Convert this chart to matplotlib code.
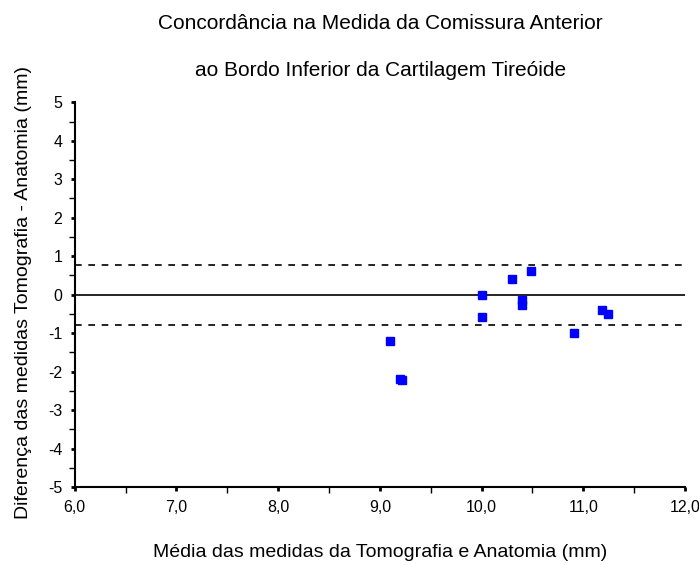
import matplotlib.pyplot as plt
from matplotlib.ticker import MultipleLocator, FuncFormatter

plt.rcParams['font.family'] = ['Liberation Sans', 'DejaVu Sans']

# Bland-Altman data: mean of both measures vs. difference (tomography - anatomy)
media = [9.10, 9.20, 9.22, 10.00, 10.00, 10.30, 10.40, 10.40, 10.49, 10.91, 11.18, 11.24]
diferenca = [-1.21, -2.20, -2.22, 0.00, -0.59, 0.40, -0.15, -0.27, 0.61, -1.00, -0.39, -0.49]
limite_sup = 0.78
limite_inf = -0.78

fig = plt.figure(figsize=(6.99, 5.65), dpi=100)
ax = fig.add_axes([0.107, 0.138, 0.873, 0.681])

ax.axhline(0, color='black', linewidth=1.2)
ax.axhline(limite_sup, color='black', linewidth=1.2, linestyle=(0, (4, 4)))
ax.axhline(limite_inf, color='black', linewidth=1.2, linestyle=(0, (4, 4)))
ax.plot(media, diferenca, 's', color='#0000ff', markersize=5.5, linestyle='none', zorder=3)

ax.set_xlim(6, 12)
ax.set_ylim(-5, 5)
ax.xaxis.set_major_locator(MultipleLocator(1))
ax.xaxis.set_minor_locator(MultipleLocator(0.5))
ax.yaxis.set_major_locator(MultipleLocator(1))
ax.yaxis.set_minor_locator(MultipleLocator(0.5))
ax.xaxis.set_major_formatter(FuncFormatter(lambda v, p: f'{v:.1f}'.replace('.', ',')))
ax.yaxis.set_major_formatter(FuncFormatter(lambda v, p: f'{v:.0f}'))

for s in ['top', 'right']:
    ax.spines[s].set_visible(False)
for s in ['left', 'bottom']:
    ax.spines[s].set_linewidth(1.5)

ax.tick_params(which='major', direction='out', length=3, width=2, labelsize=11.5, pad=6)
ax.tick_params(which='minor', direction='out', length=4, width=1)

fig.text(0.544, 0.958, 'Concordância na Medida da Comissura Anterior', ha='center', va='center', fontsize=15)
fig.text(0.544, 0.876, 'ao Bordo Inferior da Cartilagem Tireóide', ha='center', va='center', fontsize=15)
fig.text(0.544, 0.022, 'Média das medidas da Tomografia e Anatomia (mm)', ha='center', va='center', fontsize=14)
fig.text(0.034, 0.483, 'Diferença das medidas Tomografia - Anatomia (mm)', ha='center', va='center',
         rotation=90, fontsize=14)

fig.savefig('out.png', dpi=100)
